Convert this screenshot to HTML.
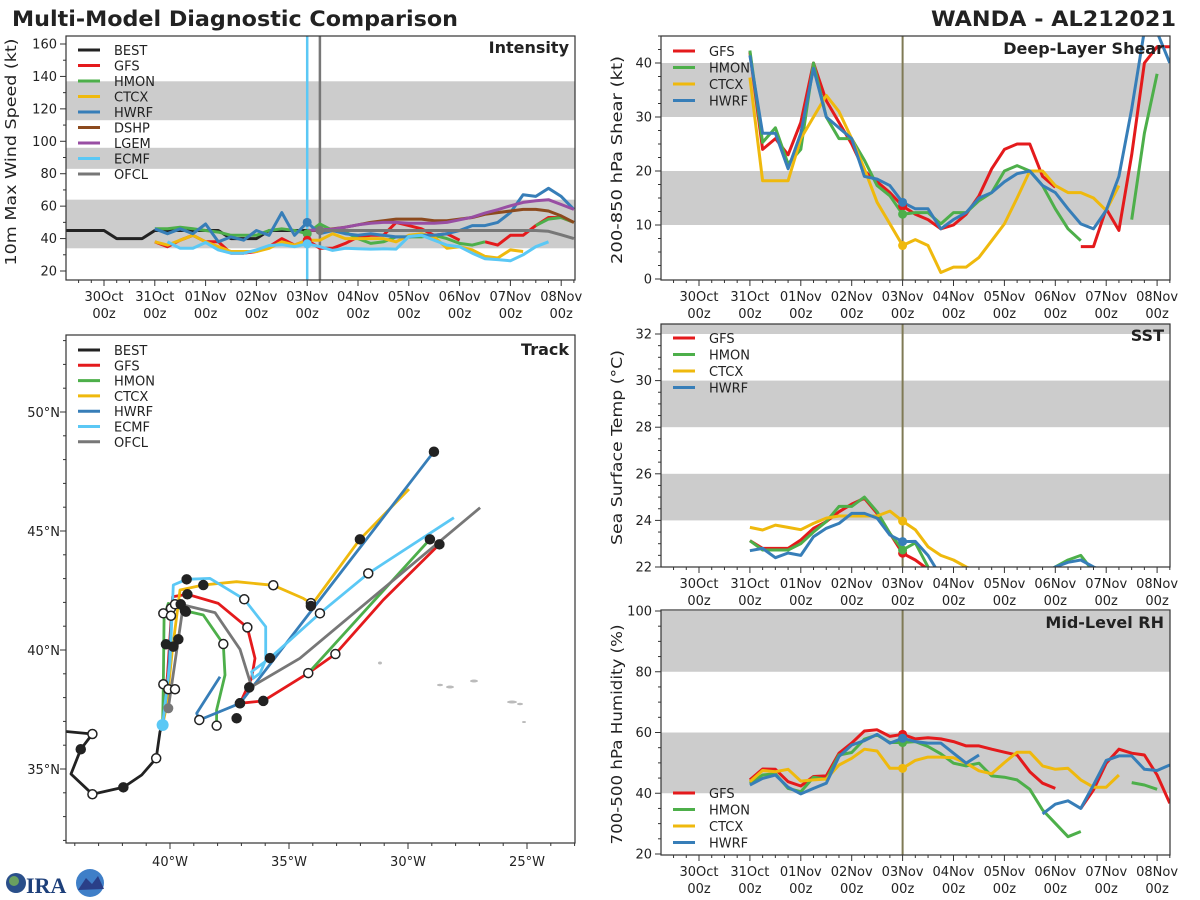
<!DOCTYPE html>
<html><head><meta charset="utf-8"><style>
html,body{margin:0;padding:0;background:#fff;}
svg{display:block;font-family:"DejaVu Sans","Liberation Sans",sans-serif;}
</style></head><body>
<svg id="c" width="1200" height="900" viewBox="0 0 1200 900" xmlns="http://www.w3.org/2000/svg">
<defs>
<clipPath id="clipInt"><rect x="66" y="36" width="509" height="244"/></clipPath>
<clipPath id="clipShear"><rect x="661" y="36" width="509" height="244"/></clipPath>
<clipPath id="clipSST"><rect x="661" y="324" width="509" height="243"/></clipPath>
<clipPath id="clipRH"><rect x="661" y="610" width="509" height="245"/></clipPath>
<clipPath id="clipTrack"><rect x="66" y="335" width="509" height="508"/></clipPath>
</defs>
<rect x="0" y="0" width="1200" height="900" fill="#fff"/>
<text x="12" y="26" font-size="21" font-weight="bold" fill="#222" textLength="446" lengthAdjust="spacingAndGlyphs">Multi-Model Diagnostic Comparison</text>
<text x="1176" y="26" font-size="21" font-weight="bold" fill="#222" text-anchor="end" textLength="245" lengthAdjust="spacingAndGlyphs">WANDA - AL212021</text>
<g id="gInt"></g>
<g id="gShear"></g>
<g id="gSST"></g>
<g id="gRH"></g>
<g id="gTrack"></g>
<g>
<circle cx="16" cy="883" r="10" fill="#2a4f8a"/>
<circle cx="14" cy="881" r="5" fill="#6aa060"/>
<text x="26" y="893" font-size="22" font-weight="bold" fill="#1d3f7a" font-family="Liberation Serif, serif">IRA</text>
<circle cx="90" cy="883" r="14" fill="#3f7fc8"/>
<path d="M78 890 L86 878 L92 884 L98 876 L104 889 Z" fill="#2a3f88"/>
</g>
</svg>
<script>
const NS='http://www.w3.org/2000/svg';
const dayLabels=['30Oct','31Oct','01Nov','02Nov','03Nov','04Nov','05Nov','06Nov','07Nov','08Nov'];
const modelStartHour=24, stepHour=6, bestStartHour=-18;
// Intensity (kt)
const intBEST=[45,45,45,45,40,40,40,45,45,45,45,45,45,40,40,40,45,45,45,45];
const intGFS=[38,35,39,42,38,38,31,31,32,35,40,36,39,34,34,37,41,42,42,50,48,46,42,43,39,null,38,36,42,42,48,53,53,50];
const intHMON=[46,46,47,46,45,44,42,42,42,45,46,45,43,49,45,44,40,37,38,41,41,41,42,40,37,36,38,null,null,null,48,52,53,50];
const intCTCX=[38,36,39,42,38,35,32,32,32,34,38,36,39,39,43,40,40,40,40,38,42,43,41,34,35,33,29,28,33,32];
const intHWRF=[46,43,46,43,49,38,41,39,45,42,56,42,50,43,45,43,42,43,42,41,41,42,42,43,45,48,48,50,56,67,66,71,66,58];
const intDSHP=[null,null,null,null,null,null,null,null,null,null,null,null,45,45,46,47,48.5,50,51,52,52,52,51,51,52,53,55,56,57,58,58,57,54,50];
const intLGEM=[null,null,null,null,null,null,null,null,null,null,null,null,45,45.4,45.8,47,48.5,49.5,50,50,49.5,49.5,49.5,50,51.6,53.2,55.7,57.8,60.2,62.3,63.3,64,61,58];
const intECMF=[null,38,34,34,37.6,33,31,31,33,35.7,36.2,35,36.8,35,32.7,34,33.7,33.5,33.7,33.5,41.3,42,39,36,35,31,27.5,27,26.3,30,35,38];
const intOFCL=[null,null,null,null,null,null,null,null,null,null,null,null,null,45,45,45,45,45,45,45,45,45,45,45,45,45,45,45,45,45,45,44.5,42.3,40];
// Deep-layer shear (kt)
const shGFS=[42,24,26,23,29,40,33,29,25,20,18,16,13.5,12,11,9.3,10,12,15.4,20.4,24,25,25,19,17,null,6,6,13,9,23,40,43,43];
const shHMON=[42.3,25.3,28,21.3,24,40,30,26,26,22,17.3,15.4,12,12.3,12.3,10.2,12.3,12.3,14.5,16,20,21,20,17.3,13,9.3,7.1,null,null,null,11,27,38,null];
const shCTCX=[37.3,18.2,18.2,18.2,26,30,34,31,26,20.4,14.2,10.2,6.2,7.3,6.2,1.2,2.2,2.2,4,7.1,10.2,15,20,20,17.3,16,16,15,12.7,17.3];
const shHWRF=[41.4,27,27,20.4,27,39,30,28,26,19,18.5,17.3,14.2,13,13,9.3,11,12.3,15,16,18,19.5,20,17.3,16,13,10.2,9.3,12.7,19,31.5,46,45.7,40];
// SST (C)
const sstGFS=[23.13,22.8,22.8,22.8,23.16,23.66,23.95,24.37,24.7,24.95,24.3,23.44,22.59,22.3,21.9,21.6];
const sstHMON=[23.13,22.73,22.73,22.73,23.0,23.5,23.95,24.6,24.6,25.0,24.37,23.44,22.73,23.04,22.0,21.6,null,null,null,null,null,null,null,21.7,22.0,22.3,22.5,21.8];
const sstCTCX=[23.7,23.59,23.8,23.7,23.6,23.87,24.1,24.19,24.19,24.19,24.19,24.4,23.97,23.6,22.87,22.5,22.3,22.0,21.8];
const sstHWRF=[22.7,22.8,22.4,22.6,22.5,23.3,23.66,23.87,24.3,24.3,24.1,23.37,23.09,23.1,22.5,21.6,null,null,null,null,null,null,null,21.7,22.0,22.2,22.3,22.0,21.8];
// Mid-level RH (%)
const rhGFS=[44.4,48,47.9,43.8,42.4,45.5,45.7,53.2,56.5,60.5,60.9,58.7,59.4,57.9,58.3,57.9,57,55.6,55.6,54.5,53.5,52.6,47.1,43.3,41.6,null,35,41.1,49.9,54.5,53.2,52.6,46,36.7];
const rhHMON=[43.3,46,46.4,41.6,40.5,45.3,44.6,52.6,53.4,57.8,59.2,56.7,56.7,57,55.4,53,49.9,49,49.9,45.7,45.3,44.4,41.3,34.5,30.1,25.7,27.4,null,null,null,43.5,42.7,41.3];
const rhCTCX=[43.8,47.5,47.1,47.9,44,44.4,44.7,49.3,51.5,54.5,53.9,48.2,48.2,50.8,51.9,51.9,51.7,49.9,47.4,46.4,50.1,53.5,53.5,49,47.9,48.2,44.4,42,42,46];
const rhHWRF=[42.7,44.9,46,42,39.8,41.6,43.3,52.1,55.9,57.3,59.4,56.5,58.1,57,56.5,56.5,53.2,49.9,52.6,null,null,null,null,33.2,36.4,37.5,35,42.7,50.8,52.3,52.3,47.9,47.5,49.3];
// Tracks [lonW, lat, marker 0 none / 1 filled / 2 open]
const trackBEST=[[44.62,36.6,0],[43.26,36.47,2],[43.75,35.83,1],[44.16,34.79,0],[43.26,33.94,2],[41.96,34.23,1],[41.19,34.75,0],[40.58,35.45,2],[40.42,36.57,0],[40.31,36.85,0]];
const trackGFS=[[40.31,36.85,0],[40.1,39.0,0],[39.89,42.24,0],[39.27,42.34,1],[37.97,41.96,0],[36.75,40.95,2],[36.43,39.65,0],[36.57,38.81,0],[37.06,37.76,1],[36.08,37.86,1],[34.19,39.03,2],[33.05,39.83,2],[31.04,42.10,0],[28.68,44.44,1]];
const trackHMON=[[40.31,36.85,0],[40.28,38.46,0],[40.25,41.40,0],[40.07,41.96,0],[39.37,41.65,1],[38.60,41.47,0],[37.76,40.25,2],[37.69,38.95,0],[38.04,37.48,0],[38.04,36.82,2],null,[34.19,39.03,0],[29.08,44.65,1]];
const trackCTCX=[[40.31,36.85,0],[40.15,37.6,0],[39.9,40.0,0],[39.58,42.52,0],[38.60,42.73,1],[37.20,42.87,0],[35.66,42.72,2],[34.40,42.17,0],[34.08,41.97,2],[34.08,41.85,1],[32.02,44.65,1],[29.96,46.76,0]];
const trackHWRF=[[40.31,36.85,0],[40.08,38.74,0],[39.92,41.60,0],null,[37.90,38.88,0],[38.88,37.34,0],[38.77,37.06,2],[37.06,37.76,1],[28.91,48.33,1]];
const trackECMF=[[40.31,36.85,0],[40.0,39.5,0],[39.86,42.73,0],[39.30,42.97,1],[38.32,43.01,0],[36.88,42.13,2],[35.98,40.98,0],[35.98,39.58,0],[36.22,39.02,0],[36.50,38.81,0],[36.57,39.09,0],[35.80,39.66,1],[33.70,41.54,2],[31.67,43.22,2],[28.07,45.56,0]];
const trackOFCL=[[40.07,37.55,0],[39.44,41.89,0],[38.11,41.57,0],[37.06,40.03,0],[36.57,38.46,0],[34.54,39.65,0],[26.97,45.98,0]];
const trackExtraMarkers=[[40.28,41.54,2],[39.96,41.75,2],[39.79,41.92,2],[39.96,41.44,2],[40.28,38.56,2],[40.07,38.35,2],[39.79,38.35,2],[40.17,40.24,1],[39.86,40.14,1],[39.65,40.45,1],[39.55,41.92,1],[39.33,41.61,1],[37.20,37.13,1],[36.67,38.43,1]];

const COL={BEST:'#222222',GFS:'#e41a1c',HMON:'#4daf4a',CTCX:'#efb90d',HWRF:'#377eb8',DSHP:'#8c4a1e',LGEM:'#984ea3',ECMF:'#5bc8f5',OFCL:'#777777'};

function el(tag,attrs,parent){const e=document.createElementNS(NS,tag);for(const k in attrs)e.setAttribute(k,attrs[k]);if(parent)parent.appendChild(e);return e;}
function lin(v,v0,p0,v1,p1){return p0+(v-v0)*(p1-p0)/(v1-v0);}
const xL=h=>104+h*50.8/24;
const xR=h=>699+h*50.9/24;
const yInt=v=>lin(v,20,271,160,44);
const yShear=v=>lin(v,0,279,40,63);
const ySST=v=>lin(v,22,567,32,334);
const yRH=v=>lin(v,20,854,100,611);
const lonX=w=>lin(w,40,170,35,289);
const latY=l=>lin(l,40,650,45,531);

function drawSeries(g,arr,h0,xf,yf,color,name,clip){
  let pts=[];const segs=[];
  arr.forEach((v,i)=>{if(v===null){if(pts.length)segs.push(pts);pts=[];}else pts.push(xf(h0+i*stepHour).toFixed(1)+','+yf(v).toFixed(1));});
  if(pts.length)segs.push(pts);
  segs.forEach(s=>{const p=el('polyline',{points:s.join(' '),fill:'none',stroke:color,'stroke-width':3,'stroke-linejoin':'round','clip-path':'url(#'+clip+')'},g);
    
    });
}
function dot(g,arr,idx,h0,xf,yf,color,name){
  if(arr[idx]===null||arr[idx]===undefined)return;
  const c=el('circle',{cx:xf(h0+idx*stepHour),cy:yf(arr[idx]),r:4.5,fill:color},g);
  
  
}
function panelBase(g,x0,y0,x1,y1,bands,yf,clip){
  bands.forEach(b=>{const r=el('rect',{x:x0,y:yf(b[1]),width:x1-x0,height:yf(b[0])-yf(b[1]),fill:'#cccccc','clip-path':'url(#'+clip+')'},g);
    
    });
}
function frame(g,x0,y0,x1,y1){const r=el('rect',{x:x0,y:y0,width:x1-x0,height:y1-y0,fill:'none',stroke:'#333','stroke-width':1.2},g);
  
  }
function timeAxis(g,xf,x0,x1,y1){
  for(let h=-18;h<=228;h+=6){const x=xf(h);if(x<x0||x>x1)continue;const major=(h%24===0);
    el('line',{x1:x,y1:y1,x2:x,y2:y1+(major?6:3),stroke:'#333','stroke-width':1},g);}
  dayLabels.forEach((d,i)=>{const x=xf(i*24);
    const t=el('text',{x:x,y:y1+21,'font-size':13,'text-anchor':'middle',fill:'#222'},g);t.textContent=d;
    
    
    const t2=el('text',{x:x,y:y1+38,'font-size':13,'text-anchor':'middle',fill:'#222'},g);t2.textContent='00z';
    
    });
}
function valueAxis(g,x0,y0,y1,yf,vmin,vmax,minor,major,fmt){
  for(let v=Math.ceil(vmin/minor)*minor;v<=vmax+1e-6;v+=minor){const y=yf(v);if(y<y0-0.5||y>y1+0.5)continue;
    const isMaj=Math.abs(v/major-Math.round(v/major))<1e-6;
    el('line',{x1:x0,y1:y,x2:x0-(isMaj?6:3),y2:y,stroke:'#333','stroke-width':1},g);
    if(isMaj){const t=el('text',{x:x0-9,y:y+4.5,'font-size':13,'text-anchor':'end',fill:'#222'},g);t.textContent=fmt(v);
      
      }}
}
function axisTitle(g,x,y,txt,len,name){const t=el('text',{x:x,y:y,'font-size':15,'text-anchor':'middle',fill:'#222',transform:'rotate(-90 '+x+' '+y+')',textLength:len,lengthAdjust:'spacingAndGlyphs'},g);t.textContent=txt;
  
  }
function panelLabel(g,x,y,txt,name){const t=el('text',{x:x,y:y,'font-size':16,'font-weight':'bold','text-anchor':'end',fill:'#222'},g);t.textContent=txt;
  
  }
function legend(g,x,y,dy,names){const lg=el('g',{},g);
  
  
  names.forEach((n,i)=>{const yy=y+i*dy;
    const e=el('g',{},lg);
    
    
    el('line',{x1:x,y1:yy,x2:x+22,y2:yy,stroke:COL[n],'stroke-width':3},e);
    const t=el('text',{x:x+36,y:yy+5,'font-size':13,fill:'#222'},e);t.textContent=n;});}

// ---- Intensity
(function(){const g=document.getElementById('gInt');
  panelBase(g,66,36,575,280,[[34,64],[83,96],[113,137]],yInt,'clipInt');
  el('line',{x1:xL(96),y1:36,x2:xL(96),y2:280,stroke:COL.ECMF,'stroke-width':2.5},g);
  el('line',{x1:xL(102),y1:36,x2:xL(102),y2:280,stroke:'#777','stroke-width':2.5},g);
  const bestPts=[];
  drawSeries(g,intBEST,bestStartHour,xL,yInt,COL.BEST,'best','clipInt');
  drawSeries(g,intGFS,modelStartHour,xL,yInt,COL.GFS,'gfs','clipInt');
  drawSeries(g,intHMON,modelStartHour,xL,yInt,COL.HMON,'hmon','clipInt');
  drawSeries(g,intCTCX,modelStartHour,xL,yInt,COL.CTCX,'ctcx','clipInt');
  drawSeries(g,intHWRF,modelStartHour,xL,yInt,COL.HWRF,'hwrf','clipInt');
  drawSeries(g,intDSHP,modelStartHour,xL,yInt,COL.DSHP,'dshp','clipInt');
  drawSeries(g,intLGEM,modelStartHour,xL,yInt,COL.LGEM,'lgem','clipInt');
  drawSeries(g,intECMF,modelStartHour,xL,yInt,COL.ECMF,'ecmf','clipInt');
  drawSeries(g,intOFCL,modelStartHour,xL,yInt,COL.OFCL,'ofcl','clipInt');
  dot(g,intHWRF,12,modelStartHour,xL,yInt,COL.HWRF,'hwrf');
  dot(g,intHMON,12,modelStartHour,xL,yInt,COL.HMON,'hmon');
  dot(g,intGFS,12,modelStartHour,xL,yInt,COL.GFS,'gfs');
  dot(g,intECMF,12,modelStartHour,xL,yInt,COL.ECMF,'ecmf');
  dot(g,intOFCL,13,modelStartHour,xL,yInt,COL.OFCL,'ofcl');
  frame(g,66,36,575,280);
  timeAxis(g,xL,66,575,280);
  valueAxis(g,66,36,280,yInt,14,165,10,20,v=>v);
  axisTitle(g,16,152,'10m Max Wind Speed (kt)',227,'y-axis-title-intensity');
  panelLabel(g,569,53,'Intensity','panel-label-intensity');
  legend(g,78,50,15.5,['BEST','GFS','HMON','CTCX','HWRF','DSHP','LGEM','ECMF','OFCL']);
})();

function rightPanel(id,clip,y0,y1,yf,bands,sets,vmin,vmax,minor,major,title,titleLen,label,titleY,legendY,lbl){
  const g=document.getElementById(id);
  panelBase(g,661,y0,1170,y1,bands,yf,clip);
  el('line',{x1:xR(96),y1:y0,x2:xR(96),y2:y1,stroke:'#7f7a55','stroke-width':2},g);
  sets.forEach(s=>drawSeries(g,s[0],modelStartHour,xR,yf,COL[s[1]],s[1].toLowerCase(),clip));
  sets.forEach(s=>dot(g,s[0],12,modelStartHour,xR,yf,COL[s[1]],s[1].toLowerCase()));
  frame(g,661,y0,1170,y1);
  timeAxis(g,xR,661,1170,y1);
  valueAxis(g,661,y0,y1,yf,vmin,vmax,minor,major,v=>v);
  axisTitle(g,622,(y0+y1)/2+2,title,titleLen,lbl);
  panelLabel(g,1164,titleY,label,'panel-label-'+lbl);
  legend(g,673,legendY,16.5,['GFS','HMON','CTCX','HWRF']);
}
rightPanel('gShear','clipShear',36,280,yShear,[[10,20],[30,40]],[[shGFS,'GFS'],[shHMON,'HMON'],[shCTCX,'CTCX'],[shHWRF,'HWRF']],0,45,2.5,10,'200-850 hPa Shear (kt)',208,'Deep-Layer Shear',54,51,'shear');
rightPanel('gSST','clipSST',324,567,ySST,[[24,26],[28,30],[32,34]],[[sstGFS,'GFS'],[sstHMON,'HMON'],[sstCTCX,'CTCX'],[sstHWRF,'HWRF']],22,32.4,0.5,2,'Sea Surface Temp (°C)',195,'SST',341,338,'sst');
rightPanel('gRH','clipRH',610,855,yRH,[[40,60],[80,100]],[[rhGFS,'GFS'],[rhHMON,'HMON'],[rhCTCX,'CTCX'],[rhHWRF,'HWRF']],20,100,5,20,'700-500 hPa Humidity (%)',220,'Mid-Level RH',628,793,'rh');

// ---- Track
(function(){const g=document.getElementById('gTrack');
  const isl=[[380,663,2,1.5],[440,685,3,1.2],[450,687,4,1.5],[474,681,4,1.5],[512,702,5,1.5],[520,704,3,1.2],[524,722,2,1]];
  isl.forEach(p=>{const e=el('ellipse',{cx:p[0],cy:p[1],rx:p[2],ry:p[3],fill:'#bbbbbb'},g);
    
    });
  function trk(arr,color,name){let pts=[];const segs=[];
    arr.forEach(p=>{if(p===null){if(pts.length)segs.push(pts);pts=[];}else pts.push(lonX(p[0]).toFixed(1)+','+latY(p[1]).toFixed(1));});
    if(pts.length)segs.push(pts);
    segs.forEach(s=>{const l=el('polyline',{points:s.join(' '),fill:'none',stroke:color,'stroke-width':2.8,'stroke-linejoin':'round','clip-path':'url(#clipTrack)'},g);
      
      });}
  function marks(arr,name){arr.forEach(p=>{if(!p||!p[2])return;
    const c=el('circle',{cx:lonX(p[0]),cy:latY(p[1]),r:4.5,fill:p[2]===1?'#222':'#fff',stroke:'#222','stroke-width':1.5},g);
    
    });}
  trk(trackBEST,COL.BEST,'best');
  trk(trackGFS,COL.GFS,'gfs');
  trk(trackHMON,COL.HMON,'hmon');
  trk(trackCTCX,COL.CTCX,'ctcx');
  trk(trackHWRF,COL.HWRF,'hwrf');
  trk(trackECMF,COL.ECMF,'ecmf');
  trk(trackOFCL,COL.OFCL,'ofcl');
  [trackBEST,trackGFS,trackHMON,trackCTCX,trackHWRF,trackECMF].forEach(t=>marks(t,'model'));
  marks(trackExtraMarkers,'forecast');
  const s1=el('circle',{cx:lonX(trackOFCL[0][0]),cy:latY(trackOFCL[0][1]),r:5,fill:'#777'},g);
  
  
  const s2=el('circle',{cx:lonX(trackECMF[0][0]),cy:latY(trackECMF[0][1]),r:6,fill:COL.ECMF},g);
  
  
  frame(g,66,335,575,843);
  for(let w=44;w>=23;w--){const x=lonX(w);if(x<66||x>575)continue;const maj=(w%5===0);
    el('line',{x1:x,y1:843,x2:x,y2:843+(maj?6:3),stroke:'#333','stroke-width':1},g);
    if(maj){const t=el('text',{x:x,y:866,'font-size':13,'text-anchor':'middle',fill:'#222'},g);t.textContent=w+'°W';
      
      }}
  for(let l=32;l<=53;l++){const y=latY(l);if(y<335||y>843)continue;const maj=(l%5===0);
    el('line',{x1:66,y1:y,x2:66-(maj?6:3),y2:y,stroke:'#333','stroke-width':1},g);
    if(maj){const t=el('text',{x:60,y:y+5,'font-size':13,'text-anchor':'end',fill:'#222'},g);t.textContent=l+'°N';
      
      }}
  panelLabel(g,569,355,'Track','panel-label-track');
  legend(g,78,350,15.3,['BEST','GFS','HMON','CTCX','HWRF','ECMF','OFCL']);
})();
</script>
</body></html>
